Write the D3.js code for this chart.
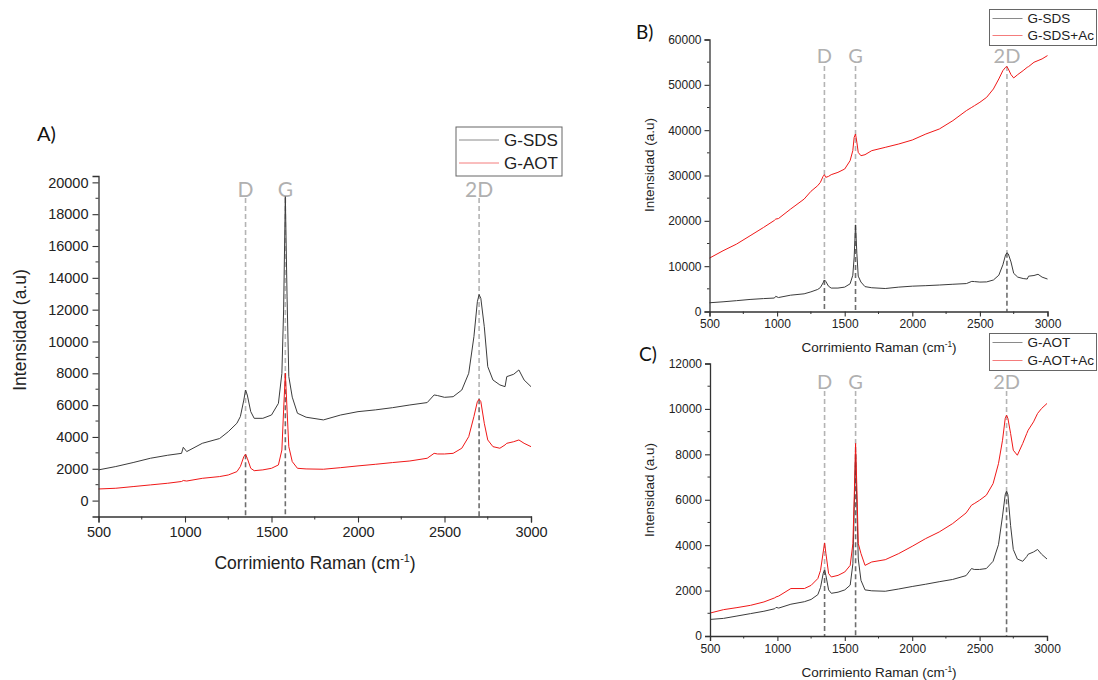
<!DOCTYPE html>
<html>
<head>
<meta charset="utf-8">
<script src="https://cdn.jsdelivr.net/npm/d3@7/dist/d3.min.js"></script>
<style>
  html, body { margin: 0; padding: 0; background: #fff; }
  svg { display: block; }
</style>
</head>
<body>
<svg id="chart" width="1098" height="680"></svg>
<script>
// ---------- DATA ----------
const wavenumbers = [500, 600, 700, 800, 900, 980, 990, 1010, 1100, 1200, 1250, 1300, 1320, 1340, 1350, 1360, 1380, 1400, 1450, 1500, 1540, 1560, 1570, 1580, 1590, 1600, 1620, 1650, 1700, 1800, 1900, 2000, 2100, 2200, 2300, 2400, 2440, 2460, 2500, 2550, 2600, 2640, 2670, 2690, 2700, 2710, 2730, 2750, 2780, 2820, 2850, 2860, 2900, 2930, 2960, 3000];

const gSDS = [1930, 2140, 2390, 2660, 2850, 2970, 3350, 3080, 3600, 3900, 4330, 4860, 5280, 6320, 6950, 6640, 5590, 5170, 5170, 5380, 6110, 8000, 11980, 19100, 12800, 7800, 6500, 5490, 5240, 5070, 5380, 5590, 5700, 5840, 6010, 6160, 6640, 6600, 6490, 6530, 6950, 8000, 10300, 12500, 12950, 12710, 10930, 8420, 7580, 7270, 7160, 7790, 7940, 8210, 7580, 7160];

const gAOT = [730, 775, 880, 985, 1090, 1200, 1260, 1230, 1400, 1510, 1610, 1820, 2140, 2760, 2910, 2660, 2030, 1880, 1930, 2030, 2240, 3180, 5700, 8000, 5700, 3390, 2450, 2030, 1990, 1970, 2070, 2180, 2280, 2390, 2490, 2660, 2970, 2930, 2930, 2970, 3290, 4020, 5280, 6220, 6370, 6220, 4860, 3810, 3390, 3290, 3500, 3600, 3700, 3810, 3600, 3390];

const gSDSAc = [11780, 13400, 14870, 16700, 18550, 20100, 20390, 20500, 22600, 24800, 26500, 27750, 28480, 29800, 30180, 29590, 29800, 30180, 30690, 31430, 33270, 35480, 38420, 39150, 37320, 35100, 34370, 34590, 35480, 36210, 36950, 37830, 39150, 40260, 42100, 44310, 45040, 45410, 46150, 47250, 49090, 51300, 53140, 53870, 54020, 53510, 52260, 51520, 52260, 53140, 53870, 54020, 54980, 55350, 55720, 56450];

const gAOTAc = [1010, 1160, 1250, 1350, 1500, 1680, 1720, 1760, 2090, 2090, 2230, 2530, 2890, 3700, 4100, 3630, 2750, 2600, 2670, 2820, 3110, 4070, 6130, 8480, 6420, 4070, 3630, 3110, 3260, 3360, 3630, 3950, 4290, 4580, 4950, 5420, 5760, 5830, 5980, 6200, 6710, 7590, 8620, 9580, 9720, 9580, 8920, 8180, 7960, 8480, 8920, 9060, 9430, 9800, 10020, 10240];

const xTicks = [500, 1000, 1500, 2000, 2500, 3000];
const xMinorTicks = [750, 1250, 1750, 2250, 2750];
const yTicksA = [0, 2000, 4000, 6000, 8000, 10000, 12000, 14000, 16000, 18000, 20000];
const yTicksB = [0, 10000, 20000, 30000, 40000, 50000, 60000];
const yTicksC = [0, 2000, 4000, 6000, 8000, 10000, 12000];

const bandNames = ["D", "G", "2D"];
const bandPositions = [1350, 1580, 2700];

const legendA = ["G-SDS", "G-AOT"];
const legendB = ["G-SDS", "G-SDS+Ac"];
const legendC = ["G-AOT", "G-AOT+Ac"];

// ---------- STYLE ----------
const BLACK = "#3c3c3c";
const RED = "#f01818";
const NUMFONT = "'Liberation Sans', Arial, sans-serif";
const LBLFONT = "Lato, 'Open Sans', sans-serif";

const svg = d3.select("#chart");

function panel(cfg) {
  const g = svg.append("g");
  const x = d3.scaleLinear().domain([500, 3000]).range(cfg.xr);
  const y = d3.scaleLinear().domain(cfg.yd).range(cfg.yr);

  // dashed band lines
  bandPositions.forEach((bp, i) => {
    const idx = wavenumbers.indexOf(bp);
    const lowVal = d3.min(cfg.series.map(s => s.data[idx]));
    const yLow = y(lowVal);
    g.append("line")
      .attr("x1", x(bp)).attr("x2", x(bp))
      .attr("y1", cfg.dashTop).attr("y2", yLow)
      .attr("stroke", "#b4b4b4").attr("stroke-width", 1.6)
      .attr("stroke-dasharray", "5,3");
    g.append("line")
      .attr("x1", x(bp)).attr("x2", x(bp))
      .attr("y1", yLow).attr("y2", cfg.yr[0])
      .attr("stroke", "#6e6e6e").attr("stroke-width", 1.6)
      .attr("stroke-dasharray", "5,3");
    g.append("text")
      .attr("x", x(bp)).attr("y", cfg.bandLabelY)
      .attr("text-anchor", "middle").attr("dominant-baseline", "central")
      .attr("font-family", LBLFONT).attr("font-size", cfg.bandFont)
      .attr("fill", "#b0b0b0")
      .text(bandNames[i]);
  });

  // series
  const line = d3.line().x((d, i) => x(wavenumbers[i])).y(d => y(d));
  cfg.series.forEach(s => {
    g.append("path")
      .datum(s.data)
      .attr("d", line)
      .attr("fill", "none")
      .attr("stroke", s.color)
      .attr("stroke-width", 1)
      .attr("stroke-linejoin", "round");
  });

  // axes
  const xAxis = d3.axisBottom(x).tickValues(xTicks).tickSize(cfg.tickLen).tickPadding(cfg.xPad).tickFormat(d3.format("d"));
  const gx = g.append("g").attr("transform", `translate(0,${cfg.yr[0]})`).call(xAxis);
  gx.selectAll("text").attr("font-family", NUMFONT).attr("font-size", cfg.tickFont).attr("fill", "#222");
  gx.append("g").selectAll("line").data(xMinorTicks).join("line")
    .attr("x1", d => x(d)).attr("x2", d => x(d)).attr("y1", 0).attr("y2", cfg.tickLen / 2)
    .attr("stroke", "#333");

  const yAxis = d3.axisLeft(y).tickValues(cfg.yTicks).tickSize(cfg.tickLen).tickPadding(cfg.yPad).tickFormat(d3.format("d"));
  const gy = g.append("g").attr("transform", `translate(${cfg.xr[0]},0)`).call(yAxis);
  gy.selectAll("text").attr("font-family", NUMFONT).attr("font-size", cfg.tickFont).attr("fill", "#222");
  const step = cfg.yTicks[1] - cfg.yTicks[0];
  const minors = cfg.yTicks.slice(0, -1).map(v => v + step / 2).filter(v => v <= cfg.yd[1]);
  gy.append("g").selectAll("line").data(minors).join("line")
    .attr("x1", 0).attr("x2", -cfg.tickLen / 2).attr("y1", d => y(d)).attr("y2", d => y(d))
    .attr("stroke", "#333");

  [gx, gy].forEach(a => {
    a.selectAll(".domain").attr("stroke", "#333").attr("stroke-width", 1.3);
    a.selectAll(".tick line").attr("stroke", "#333").attr("stroke-width", 1.1);
  });

  // axis titles
  const xt = g.append("text")
    .attr("x", cfg.xTitle[0]).attr("y", cfg.xTitle[1])
    .attr("text-anchor", "middle")
    .attr("font-family", NUMFONT).attr("font-size", cfg.titleFont).attr("fill", "#222");
  xt.append("tspan").text("Corrimiento Raman (cm");
  xt.append("tspan").attr("font-size", cfg.titleFont * 0.62).attr("dy", -cfg.titleFont * 0.38).text("-1");
  xt.append("tspan").attr("dy", cfg.titleFont * 0.38).text(")");

  g.append("text")
    .attr("transform", `translate(${cfg.yTitle[0]},${cfg.yTitle[1]}) rotate(-90)`)
    .attr("text-anchor", "middle").attr("dominant-baseline", "central")
    .attr("font-family", NUMFONT).attr("font-size", cfg.titleFont).attr("fill", "#222")
    .text("Intensidad (a.u)");

  // panel letter
  g.append("text")
    .attr("x", cfg.letter[0]).attr("y", cfg.letter[1])
    .attr("dominant-baseline", "central")
    .attr("font-family", LBLFONT).attr("font-size", cfg.letterFont).attr("fill", "#111")
    .text(cfg.letterText);

  // legend
  const L = cfg.legend;
  g.append("rect")
    .attr("x", L.x).attr("y", L.y).attr("width", L.w).attr("height", L.h)
    .attr("fill", "#fff").attr("stroke", "#666").attr("stroke-width", 1);
  cfg.legendNames.forEach((name, i) => {
    const ry = L.rows[i];
    g.append("line")
      .attr("x1", L.x + 3).attr("x2", L.x + 3 + L.lineLen)
      .attr("y1", ry).attr("y2", ry)
      .attr("stroke", i === 0 ? "#8a8a8a" : "#f47c7c").attr("stroke-width", 1);
    g.append("text")
      .attr("x", L.x + 3 + L.lineLen + 5).attr("y", ry)
      .attr("dominant-baseline", "central")
      .attr("font-family", NUMFONT).attr("font-size", L.font).attr("fill", "#222")
      .text(name);
  });
}

// Panel A
panel({
  xr: [98.5, 531], yd: [-1000, 20400], yr: [516.5, 176],
  yTicks: yTicksA, tickLen: 6, xPad: 4, yPad: 4, tickFont: 14.5, titleFont: 17.5,
  series: [{ data: gSDS, color: BLACK }, { data: gAOT, color: RED }],
  dashTop: 198, bandLabelY: 188, bandFont: 21,
  xTitle: [315, 569], yTitle: [20, 330],
  letter: [37, 133], letterFont: 20, letterText: "A)",
  legend: { x: 456, y: 127, w: 106, h: 49, rows: [140, 163], lineLen: 40, font: 17 },
  legendNames: legendA
});

// Panel B
panel({
  xr: [709.5, 1047.5], yd: [0, 60000], yr: [311.5, 39.5],
  yTicks: yTicksB, tickLen: 5, xPad: 3, yPad: 3, tickFont: 12, titleFont: 13.5,
  series: [{ data: gSDS, color: BLACK }, { data: gSDSAc, color: RED }],
  dashTop: 66, bandLabelY: 55, bandFont: 20,
  xTitle: [879, 352], yTitle: [649, 165],
  letter: [636, 31], letterFont: 19, letterText: "B)",
  legend: { x: 989.5, y: 9.5, w: 107, h: 36, rows: [18.5, 35.5], lineLen: 30, font: 13.5 },
  legendNames: legendB
});

// Panel C
panel({
  xr: [710, 1047], yd: [0, 12000], yr: [636, 363.5],
  yTicks: yTicksC, tickLen: 5, xPad: 3, yPad: 3, tickFont: 12, titleFont: 13.5,
  series: [{ data: gAOT, color: BLACK }, { data: gAOTAc, color: RED }],
  dashTop: 391, bandLabelY: 381, bandFont: 20,
  xTitle: [879, 677], yTitle: [649, 490],
  letter: [639, 353], letterFont: 19, letterText: "C)",
  legend: { x: 989.5, y: 333.5, w: 107, h: 37, rows: [342.5, 360.5], lineLen: 30, font: 13.5 },
  legendNames: legendC
});
</script>
</body>
</html>
